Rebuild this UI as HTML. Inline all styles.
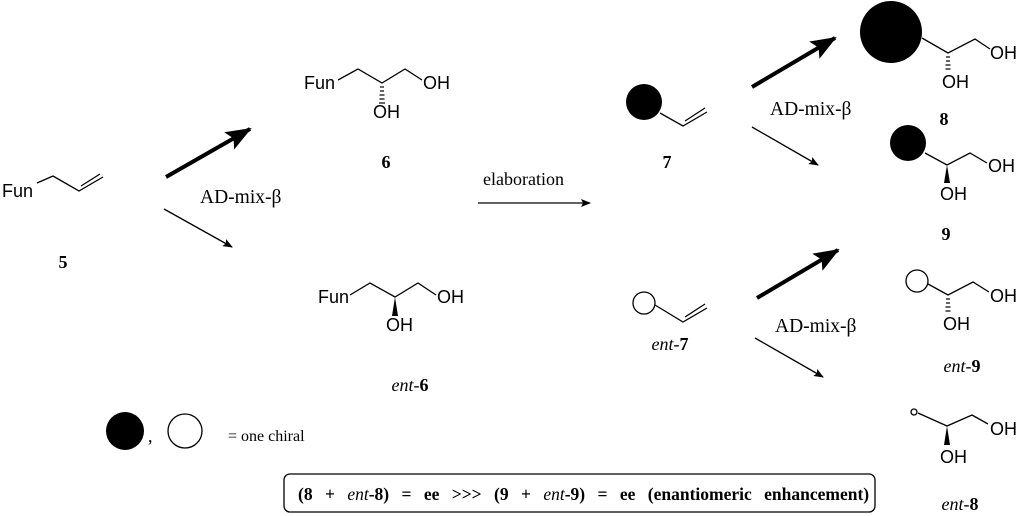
<!DOCTYPE html>
<html><head><meta charset="utf-8"><style>
html,body{margin:0;padding:0;background:#fff;}
svg{display:block;}
.s{font-family:"Liberation Sans",sans-serif;font-size:18px;}
.t{font-family:"Liberation Serif",serif;font-size:18px;}
.b{font-weight:bold;}
</style></head><body>
<svg width="1024" height="516" viewBox="0 0 1024 516" xmlns="http://www.w3.org/2000/svg">
<defs>
<marker id="ah" markerWidth="10" markerHeight="8" refX="9" refY="4" orient="auto" markerUnits="userSpaceOnUse"><path d="M0,0 L10,4 L0,8 L2,4z" fill="#000"/></marker>
<marker id="ahb" markerWidth="26" markerHeight="20" refX="24" refY="10" orient="auto" markerUnits="userSpaceOnUse"><path d="M0,0 L26,10 L0,20 L5,10z" fill="#000"/></marker>
</defs>
<g stroke="#000" stroke-width="1.3" fill="none">
<polyline points="37,183 53,176 79,191 103,177"/>
<line x1="81" y1="186" x2="100" y2="174"/>
<polyline points="338,80 358,69 382,83 405,69 422,80"/>
<polyline points="350,295 370,283 395,297 418,283 436,295"/>
<polyline points="660,113 683,126 707,112"/>
<line x1="685" y1="121" x2="705" y2="108"/>
<polyline points="922,38 948,53 975,39 990,49"/>
<polyline points="925,153 947,165 970,153 987,163"/>
<circle cx="644" cy="303" r="11"/>
<polyline points="655,305 683,322 707,308"/>
<line x1="685" y1="317" x2="705" y2="304"/>
<circle cx="917" cy="281" r="11"/>
<polyline points="928,284 948,295 973,282 989,292"/>
<circle cx="914" cy="412" r="3"/>
<polyline points="918,413 947,426 972,415 988,424"/>
<circle cx="185" cy="431" r="17"/>
<line x1="166" y1="177" x2="250" y2="129" stroke-width="4" marker-end="url(#ahb)"/>
<line x1="164" y1="209" x2="232" y2="247" marker-end="url(#ah)"/>
<line x1="478" y1="203" x2="590" y2="203" marker-end="url(#ah)"/>
<line x1="752" y1="87" x2="835" y2="38" stroke-width="4" marker-end="url(#ahb)"/>
<line x1="752" y1="127" x2="818" y2="165" marker-end="url(#ah)"/>
<line x1="757" y1="298" x2="838" y2="250" stroke-width="4" marker-end="url(#ahb)"/>
<line x1="755" y1="338" x2="823" y2="377" marker-end="url(#ah)"/>
<rect x="284" y="474" width="591" height="38" rx="6"/>
</g>
<circle cx="644" cy="102" r="18"/>
<circle cx="891" cy="32" r="31"/>
<circle cx="908" cy="143" r="18"/>
<circle cx="125" cy="431" r="19"/>
<g stroke="#000" stroke-width="1.2">
<line x1="380" y1="87" x2="384" y2="87"/><line x1="380" y1="91" x2="384" y2="91"/><line x1="379.5" y1="95" x2="384.5" y2="95"/><line x1="379.5" y1="99" x2="384.5" y2="99"/><line x1="379" y1="103" x2="385" y2="103"/>
<line x1="946" y1="57" x2="950" y2="57"/><line x1="946" y1="61" x2="950" y2="61"/><line x1="945.5" y1="65" x2="950.5" y2="65"/><line x1="945.5" y1="69" x2="950.5" y2="69"/>
<line x1="946" y1="299" x2="950" y2="299"/><line x1="946" y1="303" x2="950" y2="303"/><line x1="945.5" y1="307" x2="950.5" y2="307"/><line x1="945.5" y1="311" x2="950.5" y2="311"/>
</g>
<polygon points="395,297 392,316 398,316"/>
<polygon points="947,165 944,183 950,183"/>
<polygon points="947,426 944,445 950,445"/>
<g class="s">
<text x="2" y="197">Fun</text>
<text x="304" y="89">Fun</text><text x="423" y="89">OH</text><text x="373" y="118">OH</text>
<text x="318" y="303">Fun</text><text x="437" y="303">OH</text><text x="386" y="331">OH</text>
<text x="990" y="59">OH</text><text x="942" y="88">OH</text>
<text x="988" y="172">OH</text><text x="940" y="200">OH</text>
<text x="990" y="302">OH</text><text x="943" y="330">OH</text>
<text x="990" y="435">OH</text><text x="940" y="463">OH</text>
</g>
<g class="t">
<text x="63" y="268" class="b" text-anchor="middle">5</text>
<text x="386" y="168" class="b" text-anchor="middle">6</text>
<text x="410" y="391" text-anchor="middle"><tspan font-style="italic">ent</tspan>-<tspan class="b">6</tspan></text>
<text x="200" y="203" font-size="19.5">AD-mix-β</text>
<text x="483" y="185">elaboration</text>
<text x="667" y="168" class="b" text-anchor="middle">7</text>
<text x="770" y="115" font-size="19.5">AD-mix-β</text>
<text x="944" y="125" class="b" text-anchor="middle">8</text>
<text x="946" y="240" class="b" text-anchor="middle">9</text>
<text x="670" y="350" text-anchor="middle"><tspan font-style="italic">ent</tspan>-<tspan class="b">7</tspan></text>
<text x="775" y="332" font-size="19.5">AD-mix-β</text>
<text x="962" y="372" text-anchor="middle"><tspan font-style="italic">ent</tspan>-<tspan class="b">9</tspan></text>
<text x="960" y="510" text-anchor="middle"><tspan font-style="italic">ent</tspan>-<tspan class="b">8</tspan></text>
<text x="148" y="442">,</text>
<text x="228" y="441" font-size="16">= one chiral</text>
<text x="298" y="500" class="b" font-size="17.5" style="word-spacing:8px">(8 + <tspan font-style="italic" font-weight="normal">ent</tspan>-8) = ee &gt;&gt;&gt; (9 + <tspan font-style="italic" font-weight="normal">ent</tspan>-9) = ee (enantiomeric enhancement)</text>
</g>
</svg>
</body></html>
